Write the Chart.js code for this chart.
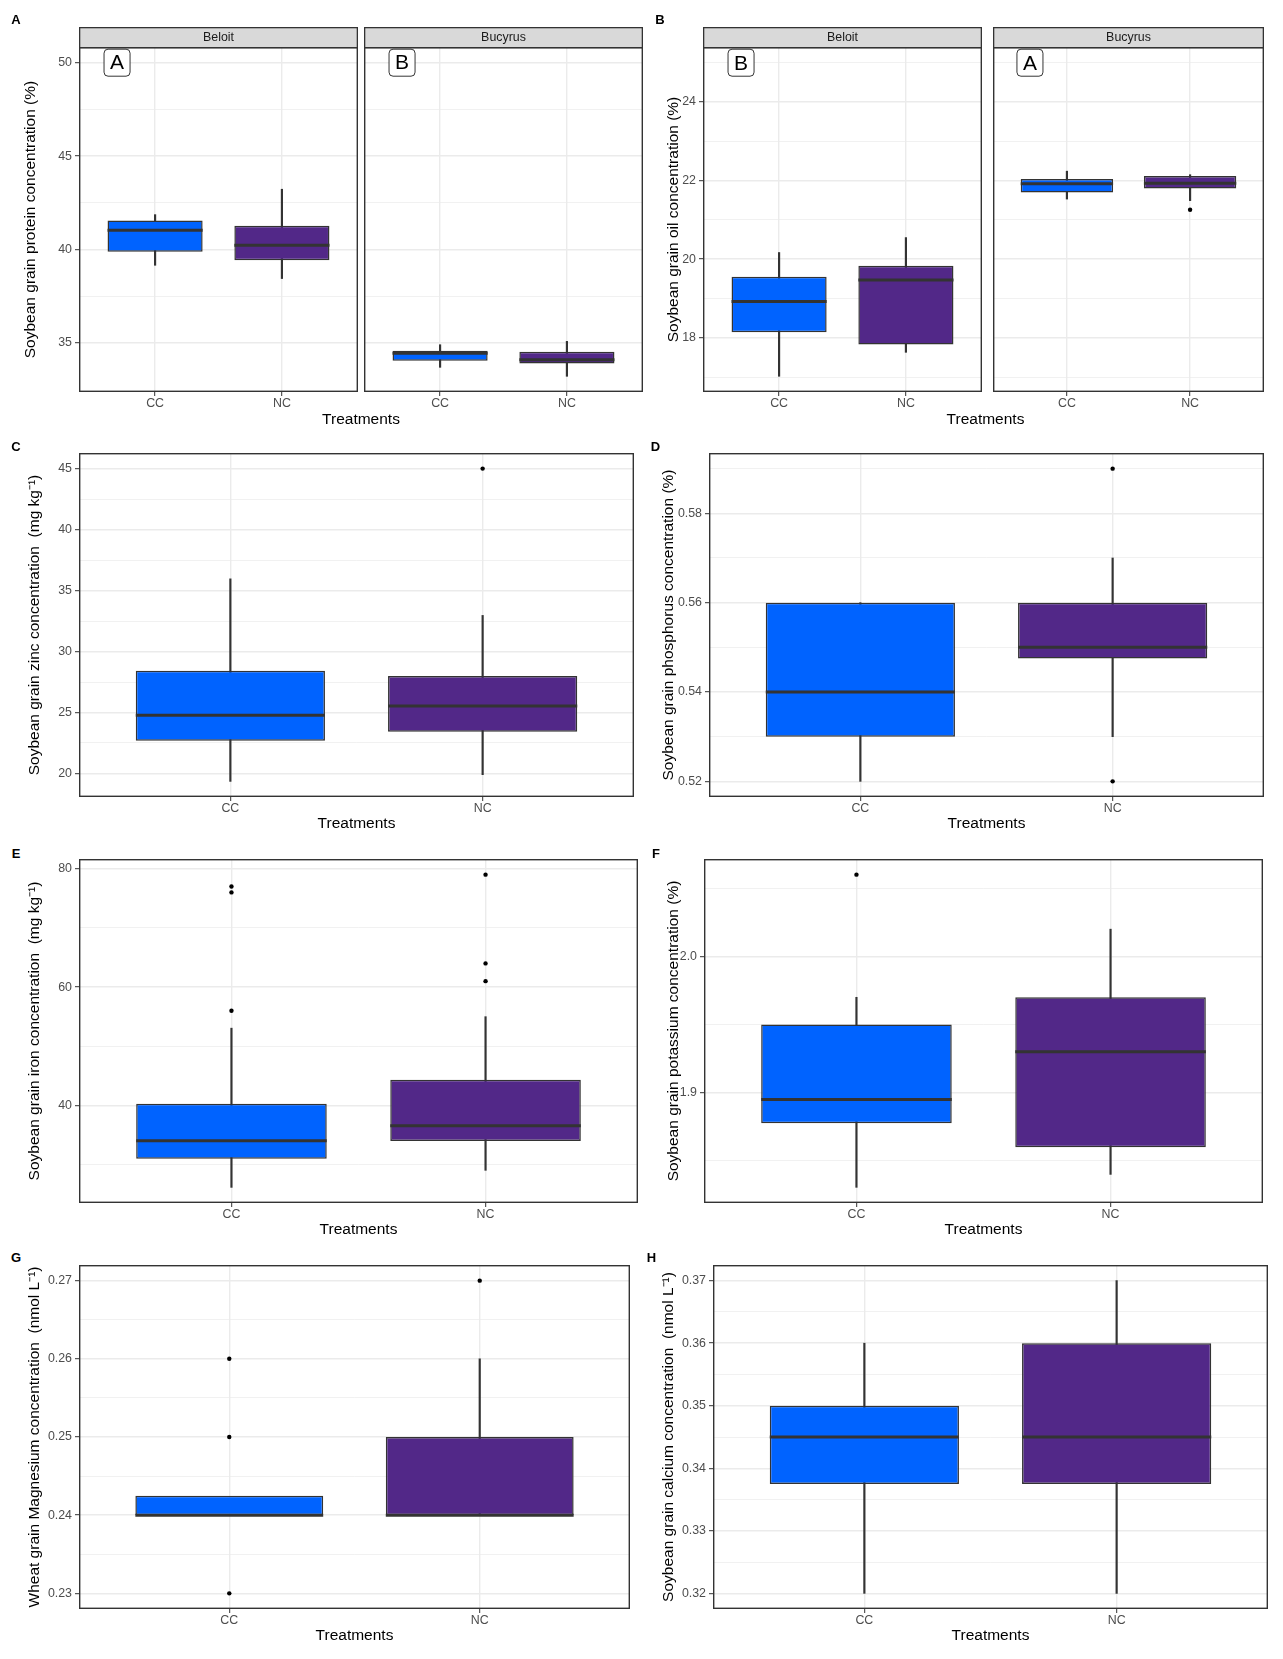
<!DOCTYPE html>
<html>
<head>
<meta charset="utf-8">
<script src="https://cdn.jsdelivr.net/npm/chart.js@4.4.1/dist/chart.umd.min.js"></script>
<style>
  body { margin: 0; background: #fff; width: 1283px; height: 1659px; position: relative; overflow: hidden; font-family: 'Liberation Sans', Arial, sans-serif; }
  canvas { position: absolute; }
  .tag { position: absolute; transform: translate(-50%, -50%); font-weight: bold; font-size: 13px; color: #000; }
  .xtitle { position: absolute; transform: translate(-50%, -50%); font-size: 15.5px; color: #000; white-space: nowrap; }
</style>
</head>
<body>
<script>
const FONT = "'Liberation Sans', Arial, sans-serif"

const treatments = ['CC', 'NC']
const sites = ['Beloit', 'Bucyrus']
const boxColors = ['#0063ff', '#522888']

// each box: [lower whisker, Q1, median, Q3, upper whisker], CC then NC
const proteinBeloit = [[39.16, 39.88, 41.03, 41.55, 41.87], [38.45, 39.43, 40.23, 41.28, 43.23]]
const proteinBucyrus = [[33.70, 34.05, 34.46, 34.59, 34.91], [33.22, 33.90, 34.11, 34.54, 35.09]]
const oilBeloit = [[17.02, 18.14, 18.92, 19.55, 20.17], [17.63, 17.83, 19.47, 19.83, 20.55]]
const oilBucyrus = [[21.53, 21.70, 21.92, 22.04, 22.24], [21.49, 21.80, 21.93, 22.12, 22.15]]
const zinc = [[19.35, 22.68, 24.78, 28.43, 35.96], [19.9, 23.42, 25.54, 28.0, 32.96]]
const phosphorus = [[0.52, 0.53, 0.54, 0.56, 0.56], [0.53, 0.5475, 0.55, 0.56, 0.57]]
const iron = [[26.16, 31.0, 34.05, 40.28, 53.06], [29.04, 33.98, 36.57, 44.33, 55.0]]
const potassium = [[1.8305, 1.8775, 1.895, 1.95, 1.97], [1.84, 1.86, 1.93, 1.97, 2.02]]
const magnesium = [[0.24, 0.24, 0.24, 0.2425, 0.24], [0.24, 0.24, 0.24, 0.25, 0.26]]
const calcium = [[0.32, 0.3375, 0.345, 0.35, 0.36], [0.32, 0.3375, 0.345, 0.36, 0.37]]

// outlying points, CC then NC
const noOutliers = [[], []]
const oilBucyrusOutliers = [[], [21.26]]
const zincOutliers = [[], [45]]
const phosphorusOutliers = [[], [0.59, 0.52]]
const ironOutliers = [[77, 76, 56], [79, 64, 61]]
const potassiumOutliers = [[2.06], []]
const magnesiumOutliers = [[0.26, 0.25, 0.23], [0.27]]

// site letters (Beloit, Bucyrus)
const proteinLetters = ['A', 'B']
const oilLetters = ['B', 'A']

// y tick labels (major) and minor grid positions
const proteinTicks = [35, 40, 45, 50]
const proteinMinor = [37.5, 42.5, 47.5]
const oilTicks = [18, 20, 22, 24]
const oilMinor = [17, 19, 21, 23, 25]
const zincTicks = [20, 25, 30, 35, 40, 45]
const zincMinor = [22.5, 27.5, 32.5, 37.5, 42.5]
const phosphorusTicks = [0.52, 0.54, 0.56, 0.58]
const phosphorusMinor = [0.53, 0.55, 0.57, 0.59]
const ironTicks = [40, 60, 80]
const ironMinor = [30, 50, 70]
const potassiumTicks = [1.9, 2.0]
const potassiumMinor = [1.85, 1.95, 2.05]
const magnesiumTicks = [0.23, 0.24, 0.25, 0.26, 0.27]
const magnesiumMinor = [0.235, 0.245, 0.255, 0.265]
const calciumTicks = [0.32, 0.33, 0.34, 0.35, 0.36, 0.37]
const calciumMinor = [0.325, 0.335, 0.345, 0.355, 0.365]

// strip, panel border and the letter boxes
const panelDecor = {
  id: 'panelDecor',
  afterDraw (chart, args, opts) {
    const { ctx, chartArea: a } = chart
    ctx.save()
    if (opts.strip) {
      ctx.fillStyle = '#d9d9d9'
      ctx.fillRect(a.left, a.top - 20, a.right - a.left, 20)
      ctx.strokeStyle = '#333'
      ctx.lineWidth = 1.3
      ctx.strokeRect(a.left + 0.65, a.top - 20 + 0.65, a.right - a.left - 1.3, 20)
      ctx.fillStyle = '#1a1a1a'
      ctx.font = '12.4px ' + FONT
      ctx.textAlign = 'center'
      ctx.textBaseline = 'middle'
      ctx.fillText(opts.strip, (a.left + a.right) / 2, a.top - 9.5)
    }
    if (opts.letter) {
      const x = chart.scales.x.getPixelForValue(0.7)
      const y = chart.scales.y.getPixelForValue(opts.letterY)
      ctx.font = '21px ' + FONT
      const w = ctx.measureText(opts.letter).width + 12
      ctx.beginPath()
      ctx.roundRect(x - w / 2, y - 13.5, w, 27, 4)
      ctx.fillStyle = '#fff'
      ctx.fill()
      ctx.strokeStyle = '#000'
      ctx.lineWidth = 0.8
      ctx.stroke()
      ctx.fillStyle = '#000'
      ctx.textAlign = 'center'
      ctx.textBaseline = 'middle'
      ctx.fillText(opts.letter, x, y + 1)
    }
    ctx.strokeStyle = '#333'
    ctx.lineWidth = 1.4
    ctx.strokeRect(a.left + 0.7, a.top + 0.7, a.right - a.left - 1.4, a.bottom - a.top - 1.4)
    ctx.restore()
  }
}

function renderPanel (p) {
  const topPad = 24
  const axisH = 38
  const canvasLeft = p.titleX ? Math.round(p.titleX - 9.3) : p.left
  const axisW = p.left - canvasLeft
  const canvas = document.createElement('canvas')
  canvas.width = p.right - canvasLeft
  canvas.height = topPad + (p.bottom - p.top) + axisH
  canvas.style.left = canvasLeft + 'px'
  canvas.style.top = (p.top - topPad) + 'px'
  document.body.appendChild(canvas)

  const isMajor = v => p.yMajor.some(t => Math.abs(t - v) < 1e-9)
  const allTicks = p.yMajor.concat(p.yMinor).sort((a, b) => a - b)

  const whiskers = p.stats.map((s, i) => ({ x: i + 1, y: [s[0], s[4]] }))
  const boxes = p.stats.map((s, i) => ({ x: i + 1, y: [s[1], s[3]] }))
  const medians = p.stats.map((s, i) => ({ x: i + 1, y: s[2] }))
  const points = []
  p.outliers.forEach((list, i) => list.forEach(v => points.push({ x: i + 1, y: v })))

  return new Chart(canvas, {
    type: 'bar',
    data: {
      datasets: [
        {
          data: whiskers,
          backgroundColor: '#333333',
          barThickness: 1.5,
          grouped: false,
          order: 3
        },
        {
          data: boxes,
          backgroundColor: boxColors,
          borderColor: '#333333',
          borderWidth: 1.5,
          borderSkipped: false,
          barPercentage: 0.75,
          categoryPercentage: 1,
          grouped: false,
          order: 2
        },
        {
          type: 'line',
          data: medians,
          showLine: false,
          pointStyle: 'line',
          pointRadius: ctx => {
            const x = ctx.chart.scales.x
            return x.getPixelForValue(1.375) - x.getPixelForValue(1)
          },
          pointBorderWidth: 3,
          pointBorderColor: '#333333',
          order: 1
        },
        {
          type: 'line',
          data: points,
          showLine: false,
          pointRadius: 2.2,
          pointBorderWidth: 0,
          pointBackgroundColor: '#000',
          order: 0
        }
      ]
    },
    options: {
      responsive: false,
      animation: false,
      events: [],
      layout: { padding: { top: topPad, left: 0, right: 0, bottom: 0 } },
      plugins: {
        legend: { display: false },
        tooltip: { enabled: false },
        panelDecor: { strip: p.strip, letter: p.letter, letterY: p.letterY }
      },
      scales: {
        x: {
          type: 'linear',
          min: 0.4,
          max: 2.6,
          offset: false,
          afterBuildTicks: s => { s.ticks = treatments.map((t, i) => ({ value: i + 1 })) },
          afterFit: s => { s.height = axisH },
          ticks: {
            autoSkip: false,
            padding: 0,
            color: '#4d4d4d',
            font: { size: 12.4, family: FONT },
            callback: v => treatments[v - 1]
          },
          grid: { color: '#ebebeb', lineWidth: 1.4, offset: false, tickLength: 4, tickColor: '#333333', tickWidth: 1 },
          border: { display: false },
          title: {
            display: !p.strip,
            text: 'Treatments',
            color: '#000',
            font: { size: 15.5, family: FONT },
            padding: { top: 0, bottom: 2 }
          }
        },
        y: {
          min: p.yMin,
          max: p.yMax,
          afterBuildTicks: s => { s.ticks = allTicks.map(v => ({ value: v })) },
          afterFit: s => { s.width = axisW },
          ticks: {
            display: axisW > 0,
            autoSkip: false,
            padding: 3,
            color: '#4d4d4d',
            font: { size: 12.4, family: FONT },
            callback: v => isMajor(v) ? v.toFixed(p.digits) : ''
          },
          grid: {
            color: '#ebebeb',
            lineWidth: ctx => isMajor(ctx.tick.value) ? 1.4 : 0.7,
            drawTicks: axisW > 0,
            tickLength: 4,
            tickColor: ctx => isMajor(ctx.tick.value) ? '#333333' : 'rgba(0,0,0,0)',
            tickWidth: 1
          },
          border: { display: false },
          title: {
            display: axisW > 0,
            text: p.yTitle,
            color: '#000',
            font: { size: 15.5, family: FONT },
            padding: 0
          }
        }
      }
    },
    plugins: [panelDecor]
  })
}

function addText (cls, text, x, y) {
  const d = document.createElement('div')
  d.className = cls
  d.textContent = text
  d.style.left = x + 'px'
  d.style.top = y + 'px'
  document.body.appendChild(d)
}

// A: protein, faceted by site
renderPanel({ left: 79, right: 358, top: 47, bottom: 392, titleX: 30.6, yTitle: 'Soybean grain protein concentration (%)', yMin: 32.38, yMax: 50.84, yMajor: proteinTicks, yMinor: proteinMinor, digits: 0, stats: proteinBeloit, outliers: noOutliers, strip: sites[0], letter: proteinLetters[0], letterY: 50 })
renderPanel({ left: 364, right: 643, top: 47, bottom: 392, titleX: null, yMin: 32.38, yMax: 50.84, yMajor: proteinTicks, yMinor: proteinMinor, digits: 0, stats: proteinBucyrus, outliers: noOutliers, strip: sites[1], letter: proteinLetters[1], letterY: 50 })

// B: oil, faceted by site
renderPanel({ left: 703, right: 982, top: 47, bottom: 392, titleX: 673.6, yTitle: 'Soybean grain oil concentration (%)', yMin: 16.62, yMax: 25.40, yMajor: oilTicks, yMinor: oilMinor, digits: 0, stats: oilBeloit, outliers: noOutliers, strip: sites[0], letter: oilLetters[0], letterY: 25 })
renderPanel({ left: 989, right: 1268, top: 47, bottom: 392, titleX: null, yMin: 16.62, yMax: 25.40, yMajor: oilTicks, yMinor: oilMinor, digits: 0, stats: oilBucyrus, outliers: oilBucyrusOutliers, strip: sites[1], letter: oilLetters[1], letterY: 25 })

// C - H
renderPanel({ left: 79, right: 638, top: 453, bottom: 797, titleX: 34.7, yTitle: 'Soybean grain zinc concentration  (mg kg\u207B\u00B9)', yMin: 18.07, yMax: 46.28, yMajor: zincTicks, yMinor: zincMinor, digits: 0, stats: zinc, outliers: zincOutliers })
renderPanel({ left: 709, right: 1268, top: 453, bottom: 797, titleX: 668.7, yTitle: 'Soybean grain phosphorus concentration (%)', yMin: 0.5165, yMax: 0.5935, yMajor: phosphorusTicks, yMinor: phosphorusMinor, digits: 2, stats: phosphorus, outliers: phosphorusOutliers })
renderPanel({ left: 79, right: 642, top: 859, bottom: 1203, titleX: 34.7, yTitle: 'Soybean grain iron concentration  (mg kg\u207B\u00B9)', yMin: 23.52, yMax: 81.64, yMajor: ironTicks, yMinor: ironMinor, digits: 0, stats: iron, outliers: ironOutliers })
renderPanel({ left: 704, right: 1267, top: 859, bottom: 1203, titleX: 672.8, yTitle: 'Soybean grain potassium concentration (%)', yMin: 1.819, yMax: 2.0715, yMajor: potassiumTicks, yMinor: potassiumMinor, digits: 1, stats: potassium, outliers: potassiumOutliers })
renderPanel({ left: 79, right: 634, top: 1265, bottom: 1609, titleX: 34.7, yTitle: 'Wheat grain Magnesium concentration  (nmol L\u207B\u00B9)', yMin: 0.228, yMax: 0.272, yMajor: magnesiumTicks, yMinor: magnesiumMinor, digits: 2, stats: magnesium, outliers: magnesiumOutliers })
renderPanel({ left: 713, right: 1268, top: 1265, bottom: 1609, titleX: 667.9, yTitle: 'Soybean grain calcium concentration  (nmol L\u207B\u00B9)', yMin: 0.3175, yMax: 0.3725, yMajor: calciumTicks, yMinor: calciumMinor, digits: 2, stats: calcium, outliers: noOutliers })

// shared x titles for the faceted panels
addText('xtitle', 'Treatments', 361, 418.5)
addText('xtitle', 'Treatments', 985.5, 418.5)

// panel tags
addText('tag', 'A', 16, 19)
addText('tag', 'B', 660, 19)
addText('tag', 'C', 16, 446)
addText('tag', 'D', 655.5, 446)
addText('tag', 'E', 16, 853)
addText('tag', 'F', 656, 853)
addText('tag', 'G', 16, 1257)
addText('tag', 'H', 651.5, 1257)
</script>
</body>
</html>
